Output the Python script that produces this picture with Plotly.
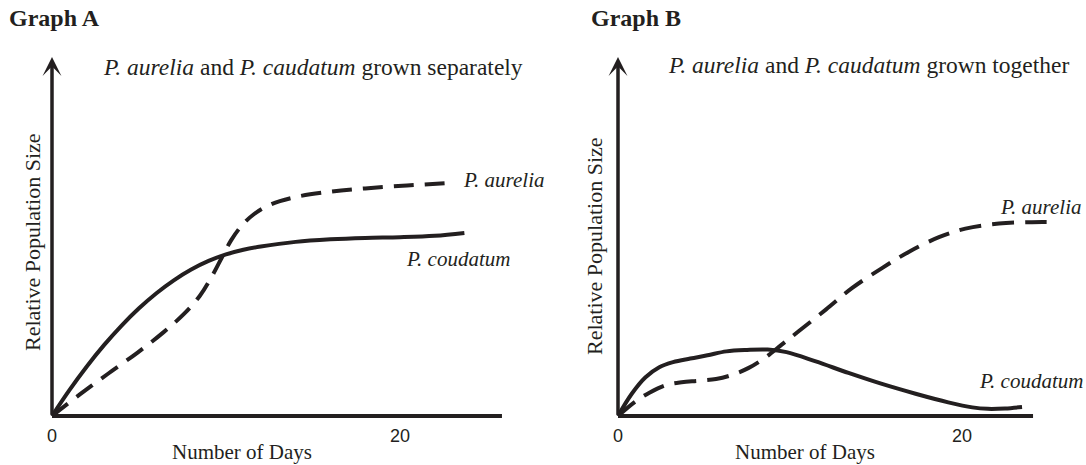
import plotly.graph_objects as go

# --- dane (dni, względna liczebność) ---
# Graph A: hodowane osobno
a_caud_days = [0, 1, 2, 3, 4, 5, 6, 7, 8, 9, 10, 11, 12, 14, 16, 18, 20, 22, 23.7]
a_caud_size = [0, 0.72, 1.38, 1.98, 2.52, 3.0, 3.42, 3.78, 4.08, 4.32, 4.5, 4.63, 4.72, 4.85, 4.92, 4.96, 4.98, 5.02, 5.10]
a_aur_days = [0, 1.6, 3.2, 4.9, 6.4, 7.6, 8.5, 9.2, 9.8, 10.3, 10.9, 11.6, 12.6, 14.0, 16.0, 18.0, 20.4, 22.76]
a_aur_size = [0, 0.6, 1.17, 1.76, 2.33, 2.85, 3.35, 3.9, 4.45, 4.9, 5.3, 5.62, 5.9, 6.1, 6.25, 6.34, 6.42, 6.49]

# Graph B: hodowane razem
b_caud_days = [0, 0.8, 1.6, 2.4, 3.2, 4.2, 5.2, 6.3, 7.5, 8.7, 9.8, 11.5, 13.4, 15.3, 17.3, 19.2, 20.6, 21.5, 22.5, 23.49]
b_caud_size = [0, 0.62, 1.08, 1.36, 1.5, 1.6, 1.69, 1.8, 1.84, 1.85, 1.78, 1.52, 1.2, 0.9, 0.62, 0.38, 0.24, 0.2, 0.21, 0.25]
b_aur_days = [0, 1.0, 1.8, 2.8, 3.7, 4.7, 5.7, 6.6, 7.6, 8.6, 9.5, 10.5, 12.1, 13.6, 15.35, 16.9, 18.66, 20.2, 22.15, 24.07, 25.47]
b_aur_size = [0, 0.4, 0.64, 0.86, 0.94, 0.98, 1.03, 1.14, 1.34, 1.64, 1.98, 2.36, 2.97, 3.56, 4.12, 4.57, 4.98, 5.22, 5.36, 5.40, 5.40]

x_ticks = [0, 20]

INK = "#231f20"
SERIF = "Liberation Serif"
SANS = "Liberation Sans"
W, H = 1086, 465

# --- geometria (piksele) ---
Y0_PX, PX_PER_UNIT = 416, 35.9
Y_RANGE = [-0.1, 10.6]
Y_TIP = 10.0


def px_x(px):
    return px / W


def px_y(px):
    return (H - px) / H


def x_domain(x0_px, px_per_day, rng):
    return [px_x(x0_px + rng[0] * px_per_day), px_x(x0_px + rng[1] * px_per_day)]


y_domain = [px_y(Y0_PX - Y_RANGE[0] * PX_PER_UNIT), px_y(Y0_PX - Y_RANGE[1] * PX_PER_UNIT)]

XA_RANGE = [-0.6, 27.0]
XB_RANGE = [-0.6, 26.6]
XA_END = 25.86
XB_END = 24.13

fig = go.Figure()

panels = [
    ("x", "y", a_aur_days, a_aur_size, a_caud_days, a_caud_size, "20px,11px"),
    ("x2", "y2", b_aur_days, b_aur_size, b_caud_days, b_caud_size, "22px,11px"),
]
for xr, yr, ad, asz, cd, csz, dash in panels:
    fig.add_trace(go.Scatter(
        x=cd, y=csz, xaxis=xr, yaxis=yr, mode="lines",
        line=dict(color=INK, width=4, shape="spline", smoothing=1.0),
        showlegend=False, hoverinfo="skip",
    ))
    fig.add_trace(go.Scatter(
        x=ad, y=asz, xaxis=xr, yaxis=yr, mode="lines",
        line=dict(color=INK, width=4, shape="spline", smoothing=1.0, dash=dash),
        showlegend=False, hoverinfo="skip",
    ))

# osie x jako linie, osie y jako strzałki
for xr, yr, xend in [("x", "y", XA_END), ("x2", "y2", XB_END)]:
    fig.add_shape(type="line", xref=xr, yref=yr, x0=0, y0=0, x1=xend, y1=0,
                  line=dict(color=INK, width=4))
    fig.add_annotation(x=0, y=Y_TIP, ax=0, ay=0, xref=xr, yref=yr, axref=xr, ayref=yr,
                       showarrow=True, arrowhead=3, arrowwidth=3.5, arrowsize=0.9,
                       arrowcolor=INK, text="")

axis_common = dict(showgrid=False, zeroline=False, showline=False, ticks="",
                   tickvals=x_ticks, ticklabelstandoff=3,
                   tickfont=dict(family=SANS, size=18, color=INK))
yaxis_common = dict(range=Y_RANGE, domain=y_domain, visible=False)

fig.update_layout(
    width=W, height=H,
    margin=dict(l=0, r=0, t=0, b=0),
    paper_bgcolor="white", plot_bgcolor="white",
    xaxis=dict(range=XA_RANGE, domain=x_domain(52, 17.4, XA_RANGE), anchor="y", **axis_common),
    yaxis=dict(anchor="x", **yaxis_common),
    xaxis2=dict(range=XB_RANGE, domain=x_domain(618, 17.2, XB_RANGE), anchor="y2", **axis_common),
    yaxis2=dict(anchor="x2", **yaxis_common),
    font=dict(family=SERIF, color=INK),
)


def note(text, x, y, xanchor="left", size=21, **kw):
    fig.add_annotation(text=text, x=px_x(x), y=px_y(y), xref="paper", yref="paper",
                       xanchor=xanchor, yanchor="middle", showarrow=False,
                       font=dict(family=SERIF, size=size, color=INK), **kw)


note("<b>Graph A</b>", 7, 18, size=24)
note("<b>Graph B</b>", 589, 18, size=24)
note("<i>P. aurelia</i> and <i>P. caudatum</i> grown separately", 101, 67, size=23.5)
note("<i>P. aurelia</i> and <i>P. caudatum</i> grown together", 666, 65, size=23.5)
note("Relative Population Size", 32, 242, xanchor="center", size=22, textangle=-90)
note("Relative Population Size", 594, 246, xanchor="center", size=22, textangle=-90)
note("Number of Days", 242, 452, xanchor="center", size=21)
note("Number of Days", 805, 452, xanchor="center", size=21)

# podpisy krzywych
note("<i>P. aurelia</i>", 461, 180, size=21)
note("<i>P. coudatum</i>", 404, 259, size=21)
note("<i>P. aurelia</i>", 998, 207, size=21)
note("<i>P. coudatum</i>", 977, 381, size=21)

fig.write_html("out.html", config={"displayModeBar": False},
               post_script="document.body.style.margin='0';")
